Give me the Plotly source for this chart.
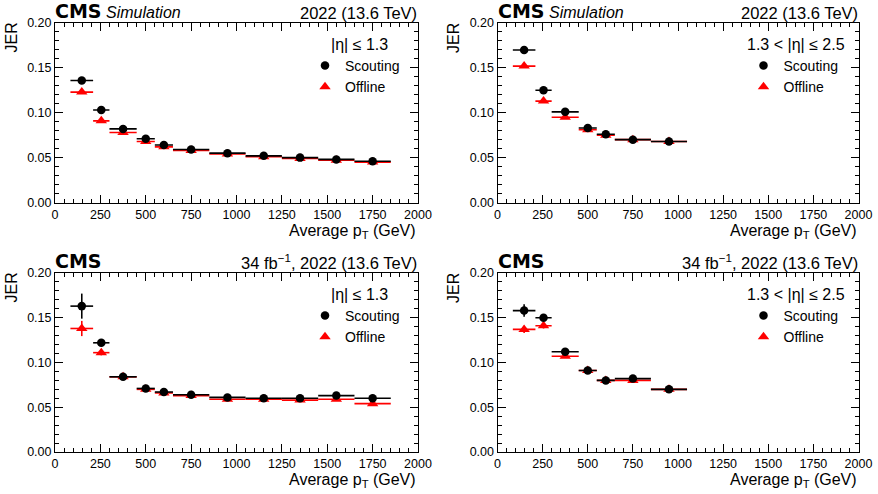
import numpy as np
import plotly.graph_objects as go

# ---------------- data ----------------
edges_central = [85, 210, 300, 450, 550, 650, 850, 1050, 1250, 1450, 1650, 1850]
edges_forward = [85, 210, 300, 450, 550, 650, 850, 1050]

sim_c_scout = [0.136, 0.103, 0.082, 0.071, 0.064, 0.059, 0.055, 0.052, 0.050, 0.048, 0.046]
sim_c_scout_err = [0.002, 0.0015, 0.0015, 0.001, 0.001, 0.001, 0.001, 0.001, 0.001, 0.001, 0.001]
sim_c_off = [0.123, 0.091, 0.078, 0.068, 0.062, 0.058, 0.054, 0.051, 0.049, 0.047, 0.045]
sim_c_off_err = [0.002, 0.0015, 0.0015, 0.001, 0.001, 0.001, 0.001, 0.001, 0.001, 0.001, 0.001]

sim_f_scout = [0.170, 0.125, 0.101, 0.083, 0.076, 0.070, 0.068]
sim_f_scout_err = [0.002, 0.0015, 0.0015, 0.001, 0.001, 0.001, 0.001]
sim_f_off = [0.152, 0.113, 0.095, 0.081, 0.075, 0.070, 0.068]
sim_f_off_err = [0.002, 0.0015, 0.0015, 0.001, 0.001, 0.001, 0.001]

data_c_scout = [0.163, 0.122, 0.084, 0.071, 0.067, 0.064, 0.061, 0.060, 0.060, 0.063, 0.060]
data_c_scout_err = [0.014, 0.003, 0.002, 0.0015, 0.0015, 0.0015, 0.0015, 0.0015, 0.002, 0.002, 0.002]
data_c_off = [0.138, 0.111, 0.084, 0.070, 0.066, 0.063, 0.059, 0.059, 0.058, 0.059, 0.054]
data_c_off_err = [0.0085, 0.003, 0.002, 0.0015, 0.0015, 0.0015, 0.0015, 0.0015, 0.002, 0.002, 0.002]

data_f_scout = [0.158, 0.150, 0.112, 0.091, 0.080, 0.082, 0.070]
data_f_scout_err = [0.007, 0.003, 0.002, 0.002, 0.002, 0.002, 0.002]
data_f_off = [0.137, 0.141, 0.107, 0.091, 0.080, 0.080, 0.070]
data_f_off_err = [0.004, 0.003, 0.002, 0.002, 0.002, 0.002, 0.002]

x_ticks = [0, 250, 500, 750, 1000, 1250, 1500, 1750, 2000]
y_ticks = [0.00, 0.05, 0.10, 0.15, 0.20]

FONT = "Liberation Sans, Arial, Helvetica, sans-serif"
BOLDFONT = "DejaVu Sans, Liberation Sans, Arial, sans-serif"
W, H = 878, 494

# panel geometry (pixels)
panels = [
    dict(x0=55, x1=418, y0=23, y1=202.5, hdr=-58.5, leg=-113),
    dict(x0=497.5, x1=858.5, y0=23, y1=202.5, hdr=-62.5, leg=-115),
    dict(x0=55, x1=418, y0=273, y1=452, hdr=-58.5, leg=-113),
    dict(x0=497.5, x1=858.5, y0=273, y1=452, hdr=-62.5, leg=-115),
]

fig = go.Figure()

series = [
    (edges_central, sim_c_scout, sim_c_scout_err, sim_c_off, sim_c_off_err),
    (edges_forward, sim_f_scout, sim_f_scout_err, sim_f_off, sim_f_off_err),
    (edges_central, data_c_scout, data_c_scout_err, data_c_off, data_c_off_err),
    (edges_forward, data_f_scout, data_f_scout_err, data_f_off, data_f_off_err),
]

headers = ["|η| ≤ 1.3", "1.3 < |η| ≤ 2.5", "|η| ≤ 1.3", "1.3 < |η| ≤ 2.5"]
rights = ["2022 (13.6 TeV)", "2022 (13.6 TeV)",
          "34 fb<sup>−1</sup>, 2022 (13.6 TeV)", "34 fb<sup>−1</sup>, 2022 (13.6 TeV)"]

annotations = []
for i, (edges, sc, sce, of, ofe) in enumerate(series):
    e = np.array(edges, dtype=float)
    xc = 0.5 * (e[:-1] + e[1:])
    hw = 0.5 * (e[1:] - e[:-1])
    sfx = "" if i == 0 else str(i + 1)
    xa, ya = "x" + sfx, "y" + sfx
    leg = "legend" + sfx
    fig.add_trace(go.Scatter(
        x=xc, y=of, mode="markers", name="Offline", xaxis=xa, yaxis=ya, legend=leg,
        marker=dict(symbol="triangle-up", color="#ff0000", size=10),
        error_x=dict(type="data", array=hw, color="#ff0000", thickness=1.6, width=0),
        error_y=dict(type="data", array=ofe, color="#ff0000", thickness=1.6, width=0),
        legendrank=2,
    ))
    fig.add_trace(go.Scatter(
        x=xc, y=sc, mode="markers", name="Scouting", xaxis=xa, yaxis=ya, legend=leg,
        marker=dict(symbol="circle", color="black", size=8.5),
        error_x=dict(type="data", array=hw, color="black", thickness=1.6, width=0),
        error_y=dict(type="data", array=sce, color="black", thickness=1.6, width=0),
        legendrank=1,
    ))

    p = panels[i]
    dom_x = [p["x0"] / W, p["x1"] / W]
    dom_y = [1 - p["y1"] / H, 1 - p["y0"] / H]
    axcommon = dict(showline=True, linecolor="black", linewidth=1, mirror="ticks",
                    ticks="inside", tickcolor="black", showgrid=False, zeroline=False,
                    automargin=False,
                    tickfont=dict(family=FONT, size=12.5, color="black"))
    fig.layout["xaxis" + sfx] = dict(
        domain=dom_x, anchor=ya, range=[0, 2000], tickvals=x_ticks, ticklen=8,
        minor=dict(dtick=50, tick0=0, ticklen=4, ticks="inside", tickcolor="black", showgrid=False),
        **axcommon)
    fig.layout["yaxis" + sfx] = dict(
        domain=dom_y, anchor=xa, range=[0, 0.2], tickvals=y_ticks, tickformat=".2f", ticklen=8,
        minor=dict(dtick=0.01, tick0=0, ticklen=4, ticks="inside", tickcolor="black", showgrid=False),
        **axcommon)

    fig.layout[leg] = dict(
        x=(p["x1"] + p["leg"]) / W, y=1 - (p["y0"] + 27) / H,
        xanchor="left", yanchor="top",
        bgcolor="rgba(0,0,0,0)", font=dict(family=FONT, size=14, color="black"),
        tracegroupgap=0, itemwidth=30,
    )

    xd, yd = xa + " domain", ya + " domain"
    # CMS label
    annotations.append(dict(xref=xd, yref=yd, x=0, y=1, xanchor="left", yanchor="bottom",
                            text="<b>CMS</b>", showarrow=False, yshift=-1, xshift=-2,
                            font=dict(family=BOLDFONT, size=19, color="black")))
    if i < 2:
        annotations.append(dict(xref=xd, yref=yd, x=0, y=1, xanchor="left", yanchor="bottom",
                                text="<i>Simulation</i>", showarrow=False, xshift=49, yshift=0,
                                font=dict(family=FONT, size=16, color="black")))
    annotations.append(dict(xref=xd, yref=yd, x=1, y=1, xanchor="right", yanchor="bottom",
                            text=rights[i], showarrow=False, xshift=1, yshift=-1,
                            font=dict(family=FONT, size=16.5, color="black")))
    # legend header
    annotations.append(dict(xref=xd, yref=yd, x=1, y=1, xanchor="center", yanchor="middle",
                            text=headers[i], showarrow=False, xshift=p["hdr"], yshift=-21,
                            font=dict(family=FONT, size=16, color="black")))
    # axis titles
    annotations.append(dict(xref=xd, yref=yd, x=1, y=0, xanchor="right", yanchor="top",
                            text="Average p<sub>T</sub> (GeV)", showarrow=False, xshift=0, yshift=-17,
                            font=dict(family=FONT, size=16, color="black")))
    annotations.append(dict(xref=xd, yref=yd, x=0, y=1, xanchor="right", yanchor="top",
                            text="JER", showarrow=False, textangle=-90, xshift=-34, yshift=2,
                            font=dict(family=FONT, size=16, color="black")))

fig.update_layout(
    template="none",
    width=W, height=H, margin=dict(l=0, r=0, t=0, b=0, autoexpand=False),
    paper_bgcolor="white", plot_bgcolor="white",
    annotations=annotations, showlegend=True, hovermode=False,
    font=dict(family=FONT, color="black"),
)

fig.write_html("out.html",
               config={"displayModeBar": False},
               post_script="document.body.style.margin='0';document.body.style.overflow='hidden';")
